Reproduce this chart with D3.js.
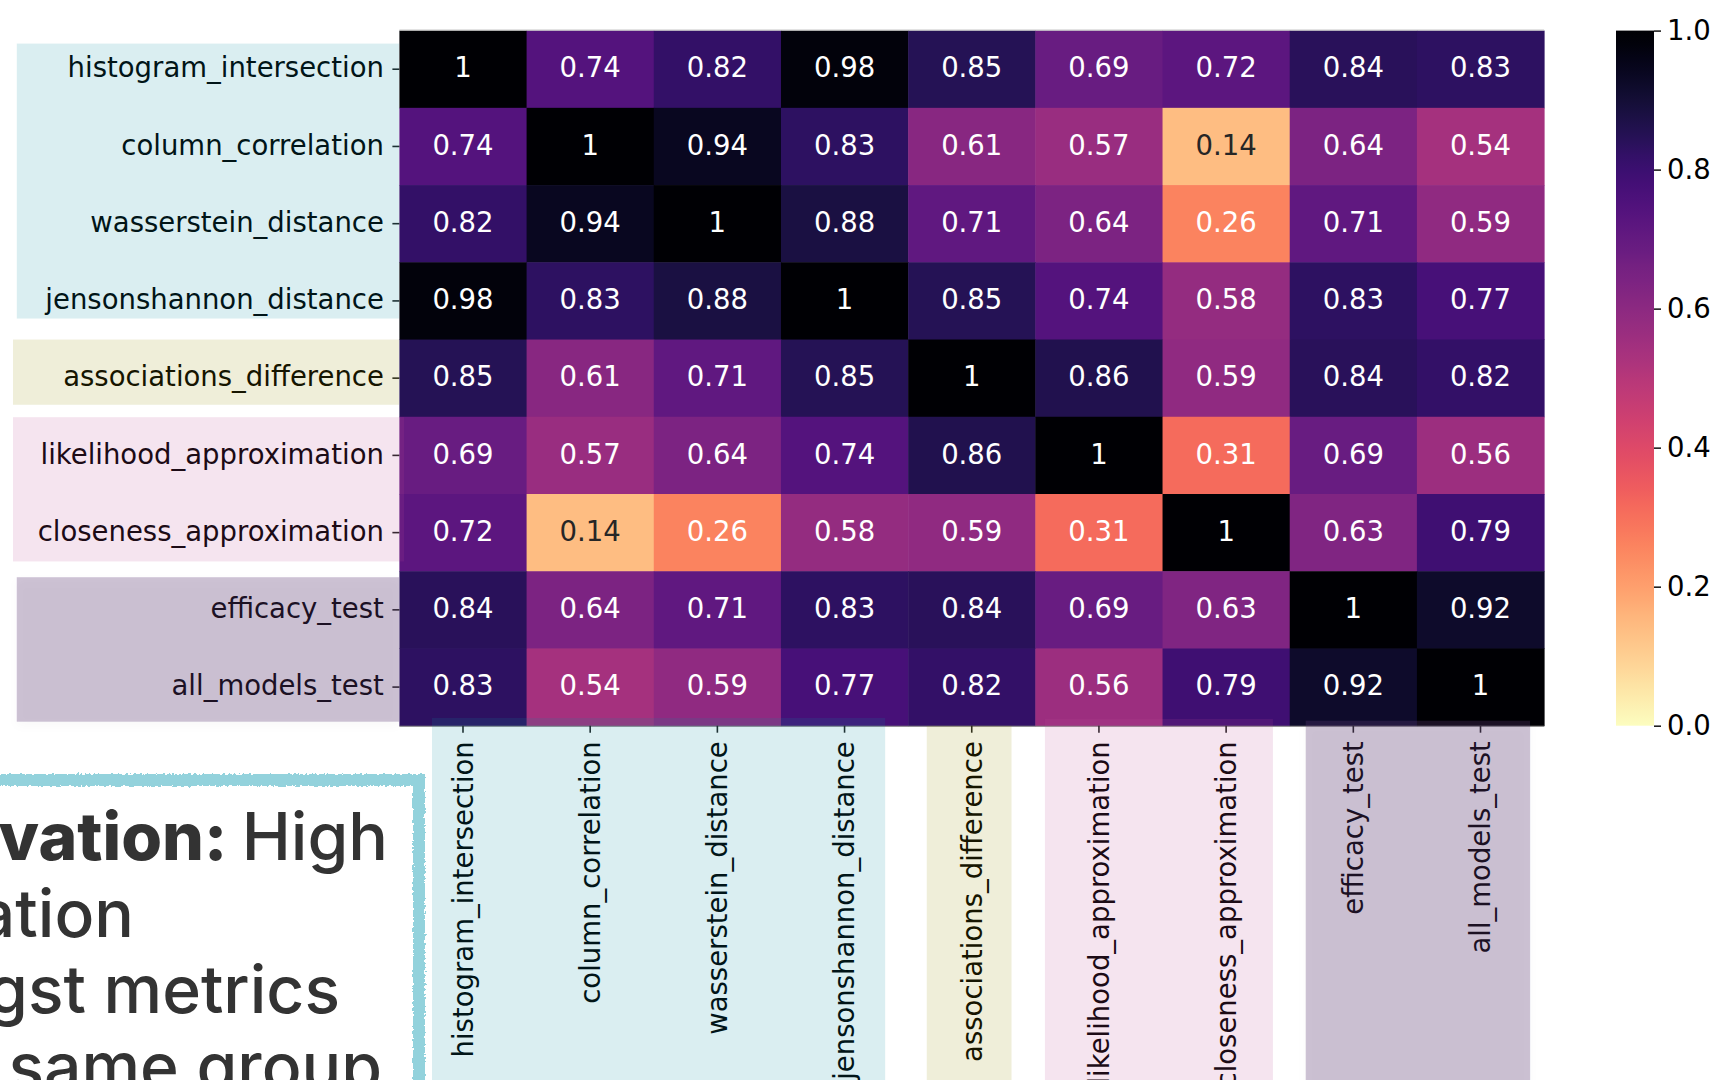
<!DOCTYPE html>
<html lang="en">
<head>
    <meta charset="utf-8">
    <title>Metric correlation</title>
    <script type="text/javascript" src="https://cdn.jsdelivr.net/npm/d3@7"></script>
    <style>
        body {
            margin: 0;
            background: #fff;
            overflow: hidden;
        }
        svg {
            display: block;
        }
        text.lbl {
            font-family: 'DejaVu Sans', sans-serif;
            font-size: 27.5px;
            fill: #000;
        }
        text.note {
            font-family: 'Inter', 'Lato', sans-serif;
            font-size: 66px;
            fill: #333;
        }
    </style>
</head>
<body>
    <svg id="chart" width="1711" height="1080"></svg>

    <script type="text/javascript">
        // metric names, same order on both axes
        var metrics = ["histogram_intersection", "column_correlation", "wasserstein_distance",
            "jensonshannon_distance", "associations_difference", "likelihood_approximation",
            "closeness_approximation", "efficacy_test", "all_models_test"];
        var groups = ["dist", "dist", "dist", "dist", "assoc", "approx", "approx", "test", "test"];

        // correlation rows
        var histogramIntersection = [1, 0.74, 0.82, 0.98, 0.85, 0.69, 0.72, 0.84, 0.83];
        var columnCorrelation     = [0.74, 1, 0.94, 0.83, 0.61, 0.57, 0.14, 0.64, 0.54];
        var wassersteinDistance   = [0.82, 0.94, 1, 0.88, 0.71, 0.64, 0.26, 0.71, 0.59];
        var jensonshannonDistance = [0.98, 0.83, 0.88, 1, 0.85, 0.74, 0.58, 0.83, 0.77];
        var associationsDiff      = [0.85, 0.61, 0.71, 0.85, 1, 0.86, 0.59, 0.84, 0.82];
        var likelihoodApprox      = [0.69, 0.57, 0.64, 0.74, 0.86, 1, 0.31, 0.69, 0.56];
        var closenessApprox       = [0.72, 0.14, 0.26, 0.58, 0.59, 0.31, 1, 0.63, 0.79];
        var efficacyTest          = [0.84, 0.64, 0.71, 0.83, 0.84, 0.69, 0.63, 1, 0.92];
        var allModelsTest         = [0.83, 0.54, 0.59, 0.77, 0.82, 0.56, 0.79, 0.92, 1];

        var colorbarTicks = [0, 0.2, 0.4, 0.6, 0.8, 1.0];

        var matrix = [histogramIntersection, columnCorrelation, wassersteinDistance,
            jensonshannonDistance, associationsDiff, likelihoodApprox, closenessApprox,
            efficacyTest, allModelsTest];

        var svg = d3.select("#chart");

        var hmLeft = 399.4, hmRight = 1544.1, hmTop = 30.6, hmBottom = 725.7;
        var x = d3.scaleBand().domain(metrics).range([hmLeft, hmRight]);
        var y = d3.scaleBand().domain(metrics).range([hmTop, hmBottom]);
        // magma reversed, 0..1
        var color = function (v) { return d3.interpolateMagma(1 - v); };

        // group highlight boxes (slide decoration), insets in px from band edges
        var groupStyle = {
            dist:   { fill: "rgb(8,142,162)",  op: 0.15, row: [13, -21, 16.8, 399],   col: [32.6, -23, 718] },
            assoc:  { fill: "rgb(148,142,2)",  op: 0.15, row: [0, -12, 13, 399],      col: [18.6, -23.8, 725.7] },
            approx: { fill: "rgb(188,75,148)", op: 0.15, row: [0.4, -9.8, 13, 404],   col: [9.6, -16.8, 719] },
            test:   { fill: "rgb(88,55,115)",  op: 0.3,  row: [6, -4, 16.8, 399],     col: [16, -14, 720.7], shadow: true }
        };

        var defs = svg.append("defs");
        var shadow = defs.append("filter").attr("id", "shadow")
            .attr("x", "-10%").attr("y", "-10%").attr("width", "120%").attr("height", "130%");
        shadow.append("feDropShadow").attr("dx", 0).attr("dy", 4).attr("stdDeviation", 5)
            .attr("flood-color", "#000").attr("flood-opacity", 0.08);

        var rough = defs.append("filter").attr("id", "rough")
            .attr("x", "-5%").attr("y", "-5%").attr("width", "110%").attr("height", "110%");
        rough.append("feTurbulence").attr("type", "fractalNoise").attr("baseFrequency", 0.35)
            .attr("numOctaves", 2).attr("result", "noise");
        rough.append("feDisplacementMap").attr("in", "SourceGraphic").attr("in2", "noise")
            .attr("scale", 5).attr("xChannelSelector", "R").attr("yChannelSelector", "G");

        // observation box bottom-left
        svg.append("rect")
            .attr("x", -30).attr("y", 780).attr("width", 449).attr("height", 400)
            .attr("fill", "#fff").attr("stroke", "#93d2dc").attr("stroke-width", 12)
            .attr("filter", "url(#rough)");

        var noteLines = [
            [{ t: "Observation: ", b: true }, { t: "High", b: false }],
            [{ t: "correlation", b: false }],
            [{ t: "amongst metrics", b: false }],
            [{ t: "in the same group", b: false }]
        ];
        var noteEnds = [388, 134, 340, 382];
        noteLines.forEach(function (line, i) {
            var t = svg.append("text").attr("class", "note")
                .attr("x", noteEnds[i]).attr("y", 860 + i * 76.7)
                .attr("text-anchor", "end");
            line.forEach(function (part) {
                t.append("tspan").attr("font-weight", part.b ? 800 : 500).text(part.t);
            });
        });

        // heatmap cells
        var cells = [];
        matrix.forEach(function (row, i) {
            row.forEach(function (v, j) {
                cells.push({ r: metrics[i], c: metrics[j], v: v });
            });
        });

        svg.append("g").selectAll("rect")
            .data(cells)
            .enter()
            .append("rect")
            .attr("x", function (d) { return x(d.c); })
            .attr("y", function (d) { return y(d.r); })
            .attr("width", x.bandwidth() + 0.5)
            .attr("height", y.bandwidth() + 0.5)
            .attr("fill", function (d) { return color(d.v); });

        function textColor(v) {
            var c = d3.rgb(color(v));
            var lin = [c.r, c.g, c.b].map(function (u) {
                u = u / 255;
                return u <= 0.03928 ? u / 12.92 : Math.pow((u + 0.055) / 1.055, 2.4);
            });
            var lum = 0.2126 * lin[0] + 0.7152 * lin[1] + 0.0722 * lin[2];
            return lum > 0.408 ? "#262626" : "#fff";
        }

        svg.append("g").selectAll("text")
            .data(cells)
            .enter()
            .append("text")
            .attr("class", "lbl")
            .attr("x", function (d) { return x(d.c) + x.bandwidth() / 2; })
            .attr("y", function (d) { return y(d.r) + y.bandwidth() / 2; })
            .attr("dy", "0.3em")
            .attr("text-anchor", "middle")
            .style("fill", function (d) { return textColor(d.v); })
            .text(function (d) { return d3.format("~g")(d.v); });

        // thin edge lines of the pasted image
        svg.append("line").attr("x1", hmLeft).attr("x2", hmRight).attr("y1", hmTop - 0.5).attr("y2", hmTop - 0.5)
            .attr("stroke", "#bbb").attr("stroke-width", 1);
        svg.append("line").attr("x1", hmLeft).attr("x2", hmRight).attr("y1", hmBottom + 0.5).attr("y2", hmBottom + 0.5)
            .attr("stroke", "#777").attr("stroke-width", 1);

        // axes
        var yAxis = svg.append("g")
            .attr("transform", "translate(" + hmLeft + ",0)")
            .call(d3.axisLeft(y).tickSize(7).tickPadding(8.5));
        var xAxis = svg.append("g")
            .attr("transform", "translate(0," + hmBottom + ")")
            .call(d3.axisBottom(x).tickSize(7).tickPadding(8.5));
        [yAxis, xAxis].forEach(function (g) {
            g.select(".domain").remove();
            g.selectAll(".tick line").attr("stroke", "#222").attr("stroke-width", 1.6);
            g.selectAll(".tick text").attr("class", "lbl").attr("fill", null);
        });
        yAxis.selectAll(".tick text").attr("dy", "0.3em");
        xAxis.selectAll(".tick text")
            .attr("transform", "rotate(-90)")
            .attr("text-anchor", "end")
            .attr("x", -15.5)
            .attr("y", 0)
            .attr("dy", "0.36em");

        // group boxes drawn on top as translucent overlays
        metrics.forEach(function (m, i) {
            var g = groups[i];
            if (i > 0 && groups[i - 1] === g) return;
            var last = groups.lastIndexOf(g);
            var s = groupStyle[g];
            var r0 = y(metrics[i]) + s.row[0];
            var r1 = y(metrics[last]) + y.bandwidth() + s.row[1];
            svg.append("rect")
                .attr("x", s.row[2]).attr("y", r0)
                .attr("width", s.row[3] - s.row[2]).attr("height", r1 - r0)
                .attr("fill", s.fill).attr("fill-opacity", s.op)
                .attr("filter", s.shadow ? "url(#shadow)" : null);
            var c0 = x(metrics[i]) + s.col[0];
            var c1 = x(metrics[last]) + x.bandwidth() + s.col[1];
            svg.append("rect")
                .attr("x", c0).attr("y", s.col[2])
                .attr("width", c1 - c0).attr("height", 1080 - s.col[2] + 20)
                .attr("fill", s.fill).attr("fill-opacity", s.op)
                .attr("filter", s.shadow ? "url(#shadow)" : null);
        });

        // colorbar
        var cbLeft = 1616, cbWidth = 38;
        var cy = d3.scaleLinear().domain([0, 1]).range([hmBottom, hmTop]);
        var grad = defs.append("linearGradient").attr("id", "cbgrad")
            .attr("x1", 0).attr("y1", 1).attr("x2", 0).attr("y2", 0);
        d3.range(0, 1.0001, 0.02).forEach(function (t) {
            grad.append("stop").attr("offset", t).attr("stop-color", color(t));
        });
        svg.append("rect")
            .attr("x", cbLeft).attr("y", cy(1))
            .attr("width", cbWidth).attr("height", cy(0) - cy(1))
            .attr("fill", "url(#cbgrad)");
        var cbAxis = svg.append("g")
            .attr("transform", "translate(" + (cbLeft + cbWidth) + ",0)")
            .call(d3.axisRight(cy).tickValues(colorbarTicks).tickFormat(d3.format(".1f"))
                .tickSize(7).tickPadding(6));
        cbAxis.select(".domain").remove();
        cbAxis.selectAll(".tick line").attr("stroke", "#222").attr("stroke-width", 1.6);
        cbAxis.selectAll(".tick text").attr("class", "lbl").attr("fill", null);
    </script>
</body>
</html>
